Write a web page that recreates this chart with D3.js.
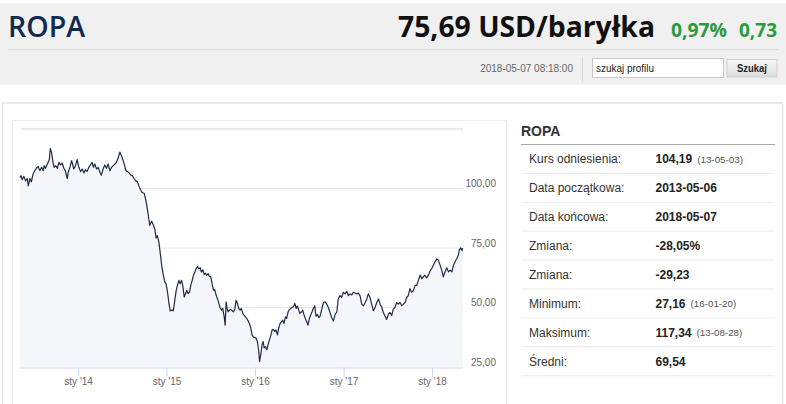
<!DOCTYPE html>
<html>
<head>
<meta charset="utf-8">
<title>ROPA</title>
<script src="https://d3js.org/d3.v7.min.js"></script>
<style>
  body { margin: 0; background: #fff; }
  svg { display: block; font-family: "Liberation Sans", Arial, sans-serif; }
</style>
</head>
<body>
<svg id="page"></svg>
<script>
// weekly closes (USD / barrel)
var dates = [
  "2013-05-06","2013-05-10","2013-05-15","2013-05-22","2013-05-29","2013-06-05","2013-06-09","2013-06-16","2013-06-22","2013-06-29",
  "2013-07-06","2013-07-13","2013-07-20","2013-07-27","2013-08-03","2013-08-10","2013-08-14","2013-08-19","2013-08-27","2013-09-04",
  "2013-09-08","2013-09-13","2013-09-19","2013-09-24","2013-09-30","2013-10-07","2013-10-14","2013-10-20","2013-10-27","2013-11-03",
  "2013-11-09","2013-11-17","2013-11-21","2013-11-28","2013-12-05","2013-12-09","2013-12-14","2013-12-21","2013-12-28",
  "2014-01-04","2014-01-11","2014-01-18","2014-01-25","2014-01-31","2014-02-07","2014-02-14","2014-02-21","2014-02-28","2014-03-05",
  "2014-03-11","2014-03-18","2014-03-25","2014-04-01","2014-04-07","2014-04-14","2014-04-21","2014-04-28","2014-05-05","2014-05-12",
  "2014-05-19","2014-05-26","2014-06-02","2014-06-08","2014-06-15","2014-06-22","2014-06-29","2014-07-06","2014-07-13","2014-07-17",
  "2014-07-24","2014-07-31","2014-08-07","2014-08-13","2014-08-20","2014-08-27","2014-09-03","2014-09-09","2014-09-15","2014-09-22",
  "2014-10-01","2014-10-08","2014-10-14","2014-10-20","2014-10-24","2014-10-31","2014-11-07","2014-11-14","2014-11-19","2014-11-24",
  "2014-11-30","2014-12-06","2014-12-13","2014-12-19","2014-12-25","2014-12-30",
  "2015-01-05","2015-01-11","2015-01-16","2015-01-23","2015-01-29","2015-02-04","2015-02-10","2015-02-15","2015-02-21","2015-02-26",
  "2015-03-04","2015-03-09","2015-03-15","2015-03-20","2015-03-26","2015-03-31","2015-04-06","2015-04-11","2015-04-17","2015-04-22",
  "2015-04-28","2015-05-03","2015-05-09","2015-05-14","2015-05-20","2015-05-25","2015-05-31","2015-06-05","2015-06-11","2015-06-16",
  "2015-06-22","2015-06-27","2015-07-03","2015-07-08","2015-07-14","2015-07-19","2015-07-25","2015-07-30","2015-08-05","2015-08-10",
  "2015-08-16","2015-08-21","2015-08-27","2015-08-31","2015-09-04","2015-09-08","2015-09-12","2015-09-18","2015-09-23","2015-09-29",
  "2015-10-04","2015-10-10","2015-10-15","2015-10-21","2015-10-26","2015-11-01","2015-11-06","2015-11-12","2015-11-17","2015-11-23",
  "2015-11-28","2015-12-04","2015-12-09","2015-12-15","2015-12-20","2015-12-26","2015-12-31",
  "2016-01-06","2016-01-11","2016-01-17","2016-01-20","2016-01-26","2016-01-30","2016-02-04","2016-02-08","2016-02-13","2016-02-19",
  "2016-02-24","2016-03-01","2016-03-06","2016-03-12","2016-03-17","2016-03-23","2016-03-28","2016-04-03","2016-04-08","2016-04-14",
  "2016-04-19","2016-04-25","2016-04-30","2016-05-06","2016-05-11","2016-05-17","2016-05-22","2016-05-28","2016-06-02","2016-06-08",
  "2016-06-14","2016-06-19","2016-06-24","2016-06-30","2016-07-05","2016-07-11","2016-07-16","2016-07-22","2016-07-27","2016-08-02",
  "2016-08-07","2016-08-13","2016-08-18","2016-08-24","2016-08-29","2016-09-04","2016-09-09","2016-09-15","2016-09-21","2016-09-26",
  "2016-10-03","2016-10-10","2016-10-17","2016-10-24","2016-10-30","2016-11-06","2016-11-13","2016-11-20","2016-11-27","2016-12-04",
  "2016-12-10","2016-12-17","2016-12-24","2016-12-31",
  "2017-01-07","2017-01-14","2017-01-21","2017-01-28","2017-02-04","2017-02-10","2017-02-17","2017-02-24","2017-03-03","2017-03-10",
  "2017-03-17","2017-03-24","2017-03-31","2017-04-07","2017-04-13","2017-04-20","2017-04-27","2017-05-04","2017-05-11","2017-05-18",
  "2017-05-25","2017-06-01","2017-06-08","2017-06-14","2017-06-21","2017-06-28","2017-07-05","2017-07-12","2017-07-19","2017-07-25",
  "2017-08-01","2017-08-08","2017-08-15","2017-08-22","2017-08-29","2017-09-05","2017-09-12","2017-09-19","2017-09-25","2017-10-02",
  "2017-10-09","2017-10-16","2017-10-23","2017-10-30","2017-11-06","2017-11-13","2017-11-20","2017-11-26","2017-12-03","2017-12-10",
  "2017-12-17","2017-12-24","2017-12-31",
  "2018-01-07","2018-01-14","2018-01-21","2018-01-27","2018-02-03","2018-02-10","2018-02-17","2018-02-24","2018-03-03","2018-03-10",
  "2018-03-17","2018-03-24","2018-03-31","2018-04-07","2018-04-14","2018-04-20","2018-04-24","2018-04-30","2018-05-05","2018-05-07"
];
var prices = [
  104.6,105.4,103.7,105.1,103.2,104.2,101.1,104.2,102.8,106.1,
  107.5,108.5,109.3,107.5,108.9,107.5,109.6,108.5,110.3,112.1,
  116.8,115.3,111.0,108.9,109.6,108.5,111.0,109.9,110.7,108.5,
  107.5,104.2,106.8,108.9,111.7,110.3,108.2,109.6,112.1,
  108.9,107.1,108.2,106.5,107.9,107.1,108.9,109.9,111.0,108.9,
  110.3,108.2,108.9,106.8,105.6,108.2,109.9,108.5,110.3,107.5,
  108.9,109.6,110.3,111.0,112.7,115.3,113.8,111.7,109.3,107.5,
  107.1,106.5,105.6,105.4,104.2,103.2,102.8,101.1,99.7,98.3,
  98.0,94.8,91.2,87.0,84.5,86.3,84.9,82.8,79.2,80.2,
  77.8,72.9,66.9,63.5,60.7,60.0,
  56.5,51.7,48.6,48.9,48.6,53.1,57.2,59.3,61.4,60.0,
  61.4,59.3,54.4,55.8,57.2,55.8,56.5,59.3,61.4,63.5,
  64.9,66.3,67.2,66.3,66.7,64.9,65.8,63.9,64.4,63.5,
  64.2,63.1,62.8,60.0,57.2,57.5,55.1,53.8,51.7,50.0,
  48.9,49.6,46.1,42.6,52.4,49.6,48.2,48.9,49.2,48.6,
  48.2,49.2,53.1,51.7,49.6,48.9,49.6,47.5,46.8,46.1,
  45.4,44.4,43.3,41.3,38.5,37.5,37.5,
  37.1,35.7,31.5,27.2,30.8,34.3,35.7,33.0,33.6,32.2,
  34.3,36.4,38.1,40.6,40.8,39.9,40.6,38.5,41.3,43.3,
  44.0,44.7,43.3,46.1,45.4,48.2,49.2,49.6,50.0,50.3,
  51.7,49.6,50.6,48.9,47.5,48.2,48.9,46.8,45.4,44.0,
  42.6,45.4,46.8,48.2,49.6,50.7,46.4,47.1,45.7,46.4,
  49.3,52.1,52.4,51.4,50.0,47.9,45.7,44.3,47.1,48.1,
  53.6,55.0,54.3,56.4,
  55.7,56.7,55.0,55.7,55.3,56.4,56.1,55.7,56.1,55.0,
  51.4,50.7,52.1,53.6,55.7,54.3,51.4,48.6,50.0,52.1,
  53.6,51.4,50.0,47.9,46.4,45.0,47.1,47.9,46.7,49.3,
  50.0,52.1,51.4,52.1,50.7,51.4,52.1,54.3,55.0,57.9,
  56.4,57.1,59.3,59.3,61.4,63.6,62.1,62.9,63.6,62.4,
  63.6,65.3,66.4,
  67.9,69.3,70.4,70.0,67.9,65.7,62.9,65.0,66.7,65.0,
  65.7,65.0,67.9,69.3,70.7,72.1,74.3,75.0,73.9,74.96
];

var xTickDates = ["2014-01-01","2015-01-01","2016-01-01","2017-01-01","2018-01-01"];
var yTickValues = [25, 50, 75, 100];
var yGridValues = [50, 75, 100, 125];

var statLabels = ["Kurs odniesienia:","Data początkowa:","Data końcowa:","Zmiana:","Zmiana:","Minimum:","Maksimum:","Średni:"];
var statValues = ["104,19","2013-05-06","2018-05-07","-28,05%","-29,23","27,16","117,34","69,54"];
var statNotes  = ["(13-05-03)","","","","","(16-01-20)","(13-08-28)",""];

var W = 786, H = 404;
var parse = d3.timeParse("%Y-%m-%d");
var series = dates.map(function(d, i){ return {date: parse(d), value: prices[i]}; });

var svg = d3.select("#page").attr("width", W).attr("height", H);

// ---- header ----
svg.append("rect").attr("x",0).attr("y",3).attr("width",W).attr("height",82).attr("fill","#f0f0f0");
svg.append("line").attr("x1",8).attr("x2",778).attr("y1",49.5).attr("y2",49.5).attr("stroke","#dcdcdc");

svg.append("text").attr("x",8).attr("y",36.5).attr("textLength",77).attr("lengthAdjust","spacingAndGlyphs")
   .style("font-family","'Open Sans', sans-serif").style("font-weight",600).style("font-size","28px")
   .attr("fill","#0e2a50").text("ROPA");
svg.append("text").attr("x",398).attr("y",36.5).attr("textLength",257).attr("lengthAdjust","spacingAndGlyphs")
   .style("font-family","'Open Sans', sans-serif").style("font-weight",700).style("font-size","28px")
   .attr("fill","#111").text("75,69 USD/baryłka");
svg.append("text").attr("x",671).attr("y",36.5).attr("textLength",56).attr("lengthAdjust","spacingAndGlyphs")
   .style("font-family","'Open Sans', sans-serif").style("font-weight",700).style("font-size","19px")
   .attr("fill","#2a9a3c").text("0,97%");
svg.append("text").attr("x",739).attr("y",36.5).attr("textLength",38).attr("lengthAdjust","spacingAndGlyphs")
   .style("font-family","'Open Sans', sans-serif").style("font-weight",700).style("font-size","19px")
   .attr("fill","#2a9a3c").text("0,73");

svg.append("text").attr("x",573).attr("y",71.5).attr("text-anchor","end")
   .style("font-size","10px").attr("fill","#666").text("2018-05-07 08:18:00");
svg.append("line").attr("x1",582.5).attr("x2",582.5).attr("y1",57).attr("y2",82).attr("stroke","#dadada");
svg.append("rect").attr("x",592.5).attr("y",58.5).attr("width",131).attr("height",19)
   .attr("fill","#fff").attr("stroke","#c8c8c8");
svg.append("text").attr("x",596).attr("y",71.5).attr("textLength",58).attr("lengthAdjust","spacingAndGlyphs")
   .style("font-size","10px").attr("fill","#222").text("szukaj profilu");
var grad = svg.append("defs").append("linearGradient").attr("id","btn").attr("x1",0).attr("x2",0).attr("y1",0).attr("y2",1);
grad.append("stop").attr("offset","0%").attr("stop-color","#f6f6f6");
grad.append("stop").attr("offset","100%").attr("stop-color","#dedede");
svg.append("rect").attr("x",727).attr("y",59.5).attr("width",50).attr("height",17.5)
   .attr("fill","url(#btn)").attr("stroke","#cfcfcf");
svg.append("text").attr("x",752).attr("y",71.5).attr("text-anchor","middle").attr("textLength",30).attr("lengthAdjust","spacingAndGlyphs")
   .style("font-size","10px").style("font-weight","bold").attr("fill","#222").text("Szukaj");

// ---- panels ----
svg.append("rect").attr("x",2.5).attr("y",103).attr("width",780).attr("height",320)
   .attr("fill","#fff").attr("stroke","#e6e6e6").attr("stroke-width",1.5);
svg.append("rect").attr("x",12.5).attr("y",120.5).attr("width",494).attr("height",300)
   .attr("fill","#fff").attr("stroke","#ececec");

// ---- chart ----
var x = d3.scaleTime().domain([parse("2013-05-06"), parse("2018-05-07")]).range([20, 462.5]);
var y = d3.scaleLinear().domain([25, 125]).range([367, 129]);

var plot = svg.append("g");

plot.selectAll("line.grid").data(yGridValues).enter().append("line")
   .attr("class","grid")
   .attr("x1",21).attr("x2",463)
   .attr("y1",function(d){ return y(d); }).attr("y2",function(d){ return y(d); })
   .attr("stroke",function(d){ return d === 125 ? "#ebebeb" : "#e6e6e6"; })
   .attr("stroke-width",function(d){ return d === 125 ? 2.5 : 1; });

var area = d3.area().x(function(d){ return x(d.date); }).y0(y(25)).y1(function(d){ return y(d.value); });
var line = d3.line().x(function(d){ return x(d.date); }).y(function(d){ return y(d.value); });

plot.append("path").datum(series).attr("d",area).attr("fill","#f4f6f9");
plot.append("path").datum(series).attr("d",line).attr("fill","none")
   .attr("stroke","#1c2b4a").attr("stroke-width",1.2).attr("stroke-linejoin","round");

var xAxis = d3.axisBottom(x)
   .tickValues(xTickDates.map(parse))
   .tickSize(9).tickSizeOuter(0).tickPadding(1)
   .tickFormat(function(d){ return "sty '" + d3.timeFormat("%y")(d); });
var gx = svg.append("g").attr("transform","translate(0,367.5)").call(xAxis);
gx.select(".domain").attr("stroke","#ccd6eb");
gx.selectAll(".tick line").attr("stroke","#ccd6eb");
gx.selectAll("text").attr("fill","#666").style("font-size","10px").style("font-family","'Liberation Sans', Arial, sans-serif");

var yAxis = d3.axisRight(y).tickValues(yTickValues).tickSize(0)
   .tickFormat(function(d){ return d3.format(".2f")(d).replace(".", ","); });
var gy = svg.append("g").attr("transform","translate(463,0)").call(yAxis);
gy.select(".domain").remove();
gy.selectAll("text").attr("x",33).attr("dy",null).attr("y",-2).attr("text-anchor","end")
   .attr("fill","#666").style("font-size","10px").style("font-family","'Liberation Sans', Arial, sans-serif");

// ---- stats table ----
var tbl = svg.append("g");
tbl.append("text").attr("x",521).attr("y",136).style("font-size","14px").style("font-weight","bold")
   .attr("fill","#333").text("ROPA");
tbl.append("line").attr("x1",521).attr("x2",775).attr("y1",144.5).attr("y2",144.5).attr("stroke","#a8a8a8");

var rowH = 28.9;
var rows = tbl.selectAll("g.row").data(statLabels).enter().append("g").attr("class","row")
   .attr("transform",function(d,i){ return "translate(0," + (144.5 + rowH * i) + ")"; });
rows.append("line").attr("x1",521).attr("x2",775).attr("y1",rowH).attr("y2",rowH).attr("stroke","#ececec");
rows.append("text").attr("x",529).attr("y",rowH - 10).style("font-size","12px").attr("fill","#333")
   .text(function(d){ return d; });
rows.append("text").attr("class","val").attr("x",655.5).attr("y",rowH - 10).style("font-size","12px")
   .style("font-weight","bold").attr("fill","#222").text(function(d,i){ return statValues[i]; });
rows.each(function(d,i){
  if (!statNotes[i]) return;
  var g = d3.select(this);
  var w = g.select("text.val").node().getComputedTextLength();
  g.append("text").attr("x",655.5 + w + 5).attr("y",rowH - 10.5).style("font-size","9.8px")
   .attr("fill","#555").text(statNotes[i]);
});
</script>
</body>
</html>
